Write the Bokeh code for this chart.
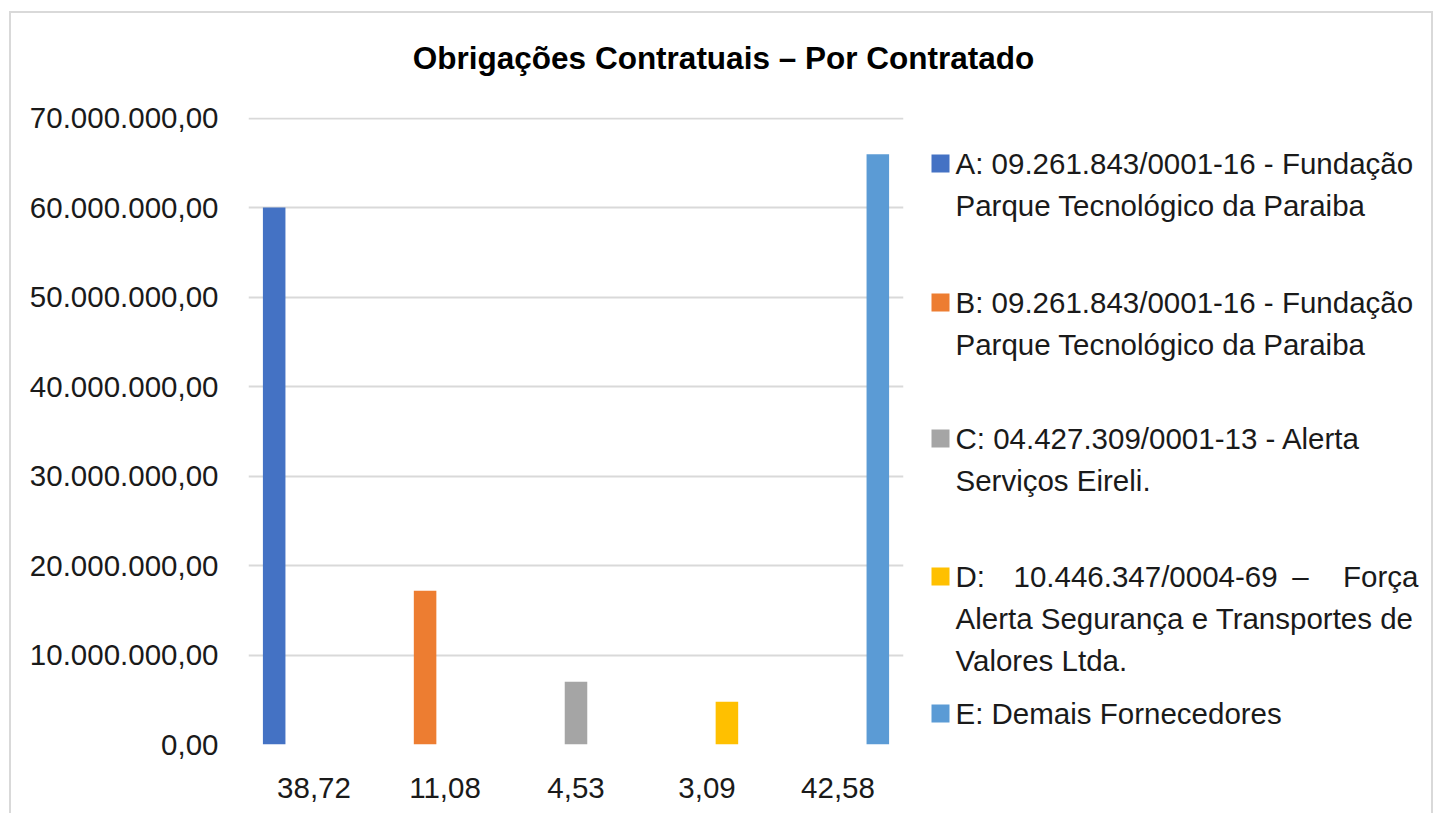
from bokeh.plotting import figure
from bokeh.layouts import column, row
from bokeh.models import FactorRange, Range1d, FixedTicker, ColumnDataSource
from bokeh.transform import dodge
from bokeh.core.properties import value
from bokeh.embed import file_html
from bokeh.resources import INLINE

# ---------------- data ----------------
title_text = "Obrigações Contratuais – Por Contratado"
categories = ["38,72", "11,08", "4,53", "3,09", "42,58"]
series_keys = ["A", "B", "C", "D", "E"]
series_values = [60_050_000, 17_180_000, 7_020_000, 4_790_000, 66_000_000]
series_colors = ["#4472C4", "#ED7D31", "#A5A5A5", "#FFC000", "#5B9BD5"]
legend_lines = [
    ["A: 09.261.843/0001-16 - Fundação", "Parque Tecnológico da Paraiba"],
    ["B: 09.261.843/0001-16 - Fundação", "Parque Tecnológico da Paraiba"],
    ["C: 04.427.309/0001-13 - Alerta", "Serviços Eireli."],
    ["D:   10.446.347/0004-69   –   Força", "Alerta Segurança e Transportes de", "Valores Ltda."],
    ["E: Demais Fornecedores"],
]
y_ticks = [0, 10_000_000, 20_000_000, 30_000_000, 40_000_000, 50_000_000, 60_000_000, 70_000_000]
y_tick_labels = ["0,00", "10.000.000,00", "20.000.000,00", "30.000.000,00",
                 "40.000.000,00", "50.000.000,00", "60.000.000,00", "70.000.000,00"]

# ---------------- layout constants (page pixels) ----------------
FONT = "Liberation Sans"
TXT = "#1a1a1a"
FS = "29.5px"
ORIGIN_X, ORIGIN_Y = 11, 13          # content origin on the page
CONTENT_W = 1420
TITLE_H = 75
BODY_H = 725
CHART_W = 902
LEGEND_W = CONTENT_W - CHART_W
FRAME_L, FRAME_T, FRAME_W, FRAME_H = 237, 29, 655, 627
Y_MAX = 70_100_000
BODY_TOP = ORIGIN_Y + TITLE_H
FR_TOP_PAGE = BODY_TOP + FRAME_T
FR_BOT_PAGE = FR_TOP_PAGE + FRAME_H


def styled(f):
    f.grid.grid_line_color = None
    f.outline_line_color = None
    f.background_fill_color = "white"
    f.border_fill_color = "white"
    return f


# ---------------- title ----------------
pt = styled(figure(width=CONTENT_W, height=TITLE_H,
                   x_range=Range1d(ORIGIN_X, ORIGIN_X + CONTENT_W),
                   y_range=Range1d(ORIGIN_Y + TITLE_H, ORIGIN_Y),
                   min_border=0, x_axis_location=None, y_axis_location=None,
                   output_backend="svg", toolbar_location=None))
pt.text(x=[723], y=[57], text=[title_text], text_font=value(FONT), text_font_size=value("31.5px"),
        text_font_style="bold", text_color="#000000", text_align="center", text_baseline="middle")

# ---------------- chart ----------------
p = figure(
    x_range=FactorRange(*categories, range_padding=0),
    y_range=Range1d(0, Y_MAX),
    frame_width=FRAME_W, frame_height=FRAME_H,
    min_border_left=FRAME_L, min_border_top=FRAME_T,
    min_border_right=CHART_W - FRAME_L - FRAME_W,
    min_border_bottom=BODY_H - FRAME_T - FRAME_H,
    output_backend="svg", toolbar_location=None,
)
styled(p)

n = len(series_keys)
for i, (key, val, col) in enumerate(zip(series_keys, series_values, series_colors)):
    src = ColumnDataSource(dict(x=[categories[i]], top=[val]))
    p.vbar(x=dodge("x", (i - (n - 1) / 2) * 0.152, range=p.x_range), top="top", bottom=0,
           width=0.172, source=src, fill_color=col, line_color=None)

p.ygrid.grid_line_color = "#d9d9d9"
p.ygrid.grid_line_width = 2
p.yaxis.ticker = FixedTicker(ticks=y_ticks)
p.yaxis.major_label_overrides = {t: l for t, l in zip(y_ticks, y_tick_labels)}
for ax in (p.xaxis[0], p.yaxis[0]):
    ax.axis_line_color = None
    ax.major_tick_line_color = None
    ax.minor_tick_line_color = None
    ax.major_tick_out = 0
    ax.major_tick_in = 0
    ax.major_label_text_font = FONT
    ax.major_label_text_font_size = FS
    ax.major_label_text_color = TXT
p.yaxis.major_label_standoff = 30
p.xaxis.major_label_standoff = 33

# ---------------- legend (frame aligned with the chart frame, page coordinates) ----------------
pl = styled(figure(frame_width=LEGEND_W, frame_height=FRAME_H,
                   min_border_left=0, min_border_right=0,
                   min_border_top=FRAME_T, min_border_bottom=BODY_H - FRAME_T - FRAME_H,
                   x_range=Range1d(ORIGIN_X + CHART_W, ORIGIN_X + CONTENT_W),
                   y_range=Range1d(FR_BOT_PAGE, FR_TOP_PAGE),
                   x_axis_location=None, y_axis_location=None,
                   output_backend="svg", toolbar_location=None))
entry_y = [163, 302, 438, 576, 713]
line_gap = 42
sw_x, sw_size, text_x, text_right = 940, 18, 955, 1418
pl.rect(x=[sw_x] * n, y=entry_y, width=sw_size, height=sw_size, fill_color=series_colors,
        line_color=None)
tx, ty, tt, ta = [], [], [], []
for k, lines in enumerate(legend_lines):
    for j, line in enumerate(lines):
        yy = entry_y[k] + j * line_gap
        if k == 3 and j == 0:
            parts = line.split()
            for part, (px, al) in zip(parts, [(text_x, "left"), (1013, "left"),
                                              (1300, "center"), (text_right, "right")]):
                tx.append(px); ty.append(yy); tt.append(part); ta.append(al)
        else:
            tx.append(text_x); ty.append(yy); tt.append(line); ta.append("left")
pl.text(x="x", y="y", text="t", text_align="a",
        source=ColumnDataSource(dict(x=tx, y=ty, t=tt, a=ta)),
        text_font=value(FONT), text_font_size=value(FS), text_color=TXT, text_baseline="middle")

layout = column(pt, row(p, pl), styles={
    "margin-left": "9px", "margin-top": "11px",
    "border-top": "2px solid #d9d9d9", "border-left": "2px solid #d9d9d9",
    "border-right": "2px solid #d9d9d9"})

open("out.html", "w").write(file_html(layout, INLINE))
